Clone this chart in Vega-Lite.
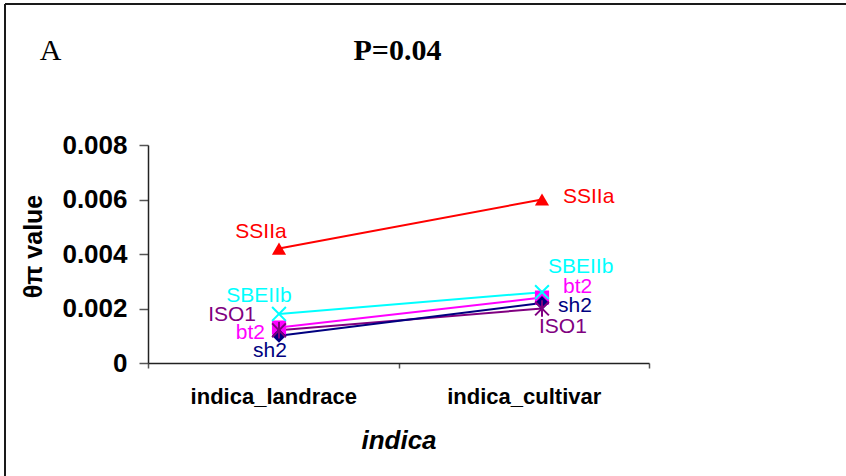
{
  "$schema": "https://vega.github.io/schema/vega-lite/v6.json",
  "autosize": "none",
  "width": 841,
  "height": 480,
  "padding": {"left": 5, "top": 4, "right": 0, "bottom": 0},
  "background": "white",
  "config": {
    "font": "Liberation Sans",
    "view": {"stroke": "#1a1a1a", "strokeWidth": 2, "strokeDash": [841, 1321, 480, 0]},
    "axis": {"grid": false}
  },
  "data": {
    "values": [
      {"series": "SSIIa", "category": "indica_landrace", "value": 0.0042},
      {"series": "SSIIa", "category": "indica_cultivar", "value": 0.006},
      {"series": "SBEIIb", "category": "indica_landrace", "value": 0.0018},
      {"series": "SBEIIb", "category": "indica_cultivar", "value": 0.0026},
      {"series": "bt2", "category": "indica_landrace", "value": 0.0013},
      {"series": "bt2", "category": "indica_cultivar", "value": 0.0024},
      {"series": "ISO1", "category": "indica_landrace", "value": 0.0012},
      {"series": "ISO1", "category": "indica_cultivar", "value": 0.002},
      {"series": "sh2", "category": "indica_landrace", "value": 0.001},
      {"series": "sh2", "category": "indica_cultivar", "value": 0.0022}
    ]
  },
  "resolve": {"scale": {"x": "independent"}, "axis": {"y": "independent"}},
  "layer": [
    {
      "mark": {"type": "point", "opacity": 0},
      "encoding": {
        "x": {
          "field": "category", "type": "nominal", "sort": ["indica_landrace", "indica_cultivar"],
          "scale": {"type": "band", "domain": ["indica_landrace", "indica_cultivar"], "range": [143, 644], "paddingInner": 0, "paddingOuter": 0},
          "axis": {
            "orient": "bottom", "offset": -121, "tickBand": "extent", "tickSize": 5,
            "domainColor": "#222", "domainWidth": 1.5, "tickColor": "#555", "tickWidth": 1.5,
            "labelAngle": 0, "labelPadding": 18, "labelFontSize": 22, "labelFontWeight": "bold", "labelColor": "#000",
            "title": "indica", "titleFontSize": 26, "titleFontWeight": "bold", "titleFontStyle": "italic", "titleColor": "#000",
            "titleBaseline": "alphabetic", "titleY": 85
          }
        },
        "y": {
          "field": "value", "type": "quantitative",
          "scale": {"domain": [0, 0.008], "range": [359, 141], "nice": false, "zero": true},
          "axis": {
            "orient": "left", "offset": -143, "values": [0, 0.002, 0.004, 0.006, 0.008],
            "labelExpr": "datum.value == 0 ? '0' : format(datum.value, '.3f')",
            "tickSize": 9, "labelPadding": 12, "labelFontSize": 26, "labelFontWeight": "bold", "labelColor": "#000",
            "domainColor": "#222", "domainWidth": 1.5, "tickColor": "#555", "tickWidth": 1.5,
            "title": "θπ value", "titleFontSize": 25, "titleFontWeight": "bold", "titleColor": "#000",
            "titleAngle": -90, "titleBaseline": "middle", "titleAlign": "center", "titleX": -115, "titleY": 242
          }
        }
      }
    },
    {
      "encoding": {
        "x": {
          "field": "category", "type": "nominal", "sort": ["indica_landrace", "indica_cultivar"],
          "scale": {"type": "point", "domain": ["indica_landrace", "indica_cultivar"], "range": [274, 537], "padding": 0},
          "axis": {
            "orient": "top", "domain": false, "ticks": false, "labels": false,
            "title": "P=0.04", "titleFont": "Liberation Serif", "titleFontSize": 30, "titleFontWeight": "bold", "titleColor": "#000",
            "titleAlign": "center", "titleBaseline": "alphabetic", "titleX": 392, "titleY": 55
          }
        },
        "y": {
          "field": "value", "type": "quantitative",
          "scale": {"domain": [0, 0.008], "range": [359, 141], "nice": false, "zero": true},
          "axis": {
            "orient": "right", "domain": false, "ticks": false, "labels": false,
            "title": "A", "titleFont": "Liberation Serif", "titleFontSize": 30, "titleFontWeight": "normal", "titleColor": "#000",
            "titleAngle": 0, "titleAlign": "center", "titleBaseline": "alphabetic", "titleX": -796, "titleY": 55
          }
        },
        "color": {
          "field": "series", "type": "nominal", "legend": null,
          "scale": {"domain": ["SSIIa", "SBEIIb", "bt2", "ISO1", "sh2"], "range": ["#ff0000", "#00ffff", "#ff00ff", "#800080", "#000080"]}
        }
      },
      "layer": [
        {"mark": {"type": "line", "strokeWidth": 2}, "encoding": {"detail": {"field": "series"}}},
        {
          "transform": [{"filter": "indexof(['SSIIa','bt2','sh2'], datum.series) >= 0"}],
          "mark": {"type": "point", "filled": true, "opacity": 1, "size": 200},
          "encoding": {
            "shape": {
              "field": "series", "type": "nominal", "legend": null,
              "scale": {"domain": ["SSIIa", "SBEIIb", "bt2", "ISO1", "sh2"], "range": ["triangle-up", "M-1,-1L1,1M-1,1L1,-1", "square", "M-1,-1L1,1M-1,1L1,-1M0,-1.2L0,1.2", "diamond"]}
            }
          }
        },
        {
          "transform": [{"filter": "indexof(['SBEIIb','ISO1'], datum.series) >= 0"}],
          "mark": {"type": "point", "filled": false, "opacity": 1, "size": 190, "strokeWidth": 2},
          "encoding": {
            "shape": {
              "field": "series", "type": "nominal", "legend": null,
              "scale": {"domain": ["SSIIa", "SBEIIb", "bt2", "ISO1", "sh2"], "range": ["triangle-up", "M-1,-1L1,1M-1,1L1,-1", "square", "M-1,-1L1,1M-1,1L1,-1M0,-1.2L0,1.2", "diamond"]}
            }
          }
        },
        {
          "transform": [{"filter": "datum.series == 'SSIIa' && datum.category == 'indica_landrace'"}],
          "mark": {"type": "text", "fontSize": 21, "align": "center", "baseline": "middle", "dx": -18, "dy": -17},
          "encoding": {"text": {"field": "series"}}
        },
        {
          "transform": [{"filter": "datum.series == 'SBEIIb' && datum.category == 'indica_landrace'"}],
          "mark": {"type": "text", "fontSize": 21, "align": "center", "baseline": "middle", "dx": -20, "dy": -18},
          "encoding": {"text": {"field": "series"}}
        },
        {
          "transform": [{"filter": "datum.series == 'ISO1' && datum.category == 'indica_landrace'"}],
          "mark": {"type": "text", "fontSize": 21, "align": "right", "baseline": "middle", "dx": -23, "dy": -15},
          "encoding": {"text": {"field": "series"}}
        },
        {
          "transform": [{"filter": "datum.series == 'bt2' && datum.category == 'indica_landrace'"}],
          "mark": {"type": "text", "fontSize": 21, "align": "right", "baseline": "middle", "dx": -14, "dy": 5},
          "encoding": {"text": {"field": "series"}}
        },
        {
          "transform": [{"filter": "datum.series == 'sh2' && datum.category == 'indica_landrace'"}],
          "mark": {"type": "text", "fontSize": 21, "align": "center", "baseline": "middle", "dx": -9, "dy": 15},
          "encoding": {"text": {"field": "series"}}
        },
        {
          "transform": [{"filter": "datum.series == 'SSIIa' && datum.category == 'indica_cultivar'"}],
          "mark": {"type": "text", "fontSize": 21, "align": "left", "baseline": "middle", "dx": 21, "dy": -3},
          "encoding": {"text": {"field": "series"}}
        },
        {
          "transform": [{"filter": "datum.series == 'SBEIIb' && datum.category == 'indica_cultivar'"}],
          "mark": {"type": "text", "fontSize": 21, "align": "left", "baseline": "middle", "dx": 6, "dy": -25},
          "encoding": {"text": {"field": "series"}}
        },
        {
          "transform": [{"filter": "datum.series == 'bt2' && datum.category == 'indica_cultivar'"}],
          "mark": {"type": "text", "fontSize": 21, "align": "left", "baseline": "middle", "dx": 21, "dy": -11},
          "encoding": {"text": {"field": "series"}}
        },
        {
          "transform": [{"filter": "datum.series == 'sh2' && datum.category == 'indica_cultivar'"}],
          "mark": {"type": "text", "fontSize": 21, "align": "left", "baseline": "middle", "dx": 16, "dy": 3},
          "encoding": {"text": {"field": "series"}}
        },
        {
          "transform": [{"filter": "datum.series == 'ISO1' && datum.category == 'indica_cultivar'"}],
          "mark": {"type": "text", "fontSize": 21, "align": "left", "baseline": "middle", "dx": -3, "dy": 18},
          "encoding": {"text": {"field": "series"}}
        }
      ]
    }
  ]
}
